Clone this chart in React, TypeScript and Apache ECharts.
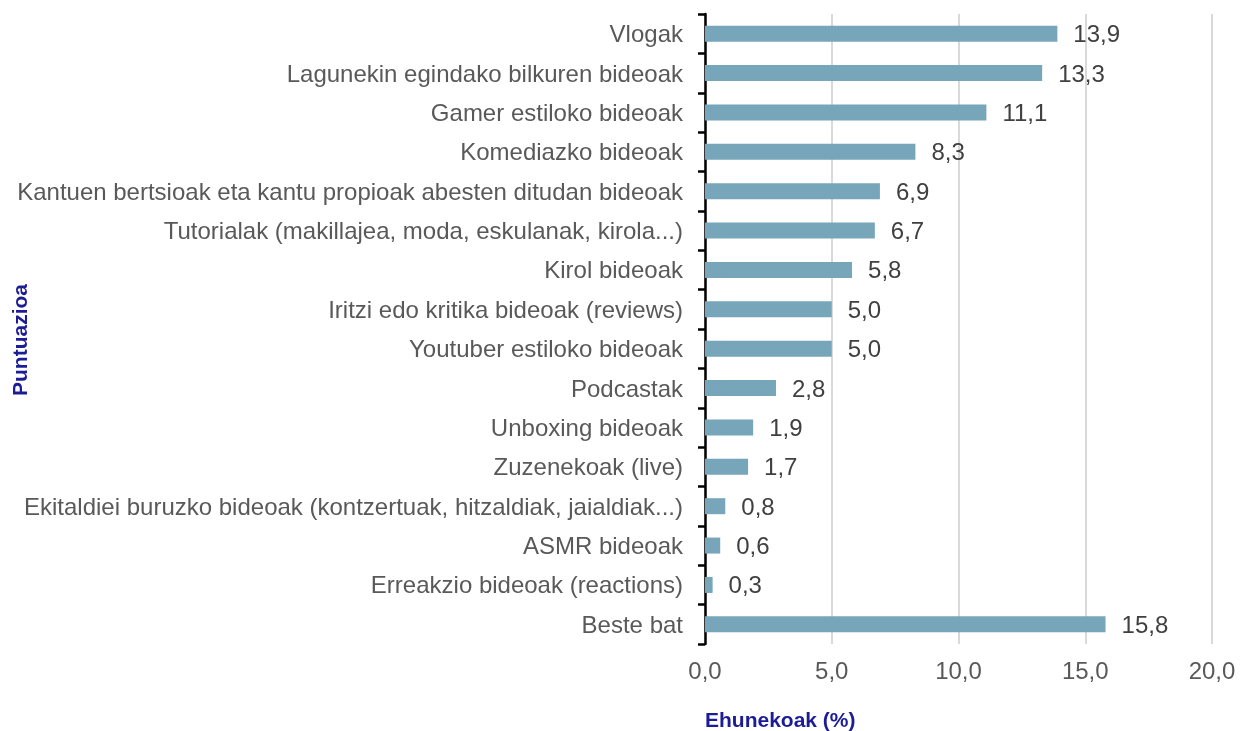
import React, { useEffect, useRef } from "react";
import * as echarts from "echarts";

const categories = [
  "Vlogak",
  "Lagunekin egindako bilkuren bideoak",
  "Gamer estiloko bideoak",
  "Komediazko bideoak",
  "Kantuen bertsioak eta kantu propioak abesten ditudan bideoak",
  "Tutorialak (makillajea, moda, eskulanak, kirola...)",
  "Kirol bideoak",
  "Iritzi edo kritika bideoak (reviews)",
  "Youtuber estiloko bideoak",
  "Podcastak",
  "Unboxing bideoak",
  "Zuzenekoak (live)",
  "Ekitaldiei buruzko bideoak (kontzertuak, hitzaldiak, jaialdiak...)",
  "ASMR bideoak",
  "Erreakzio bideoak (reactions)",
  "Beste bat",
];

const values = [13.9, 13.3, 11.1, 8.3, 6.9, 6.7, 5.8, 5.0, 5.0, 2.8, 1.9, 1.7, 0.8, 0.6, 0.3, 15.8];

const xAxisName = "Ehunekoak (%)";
const yAxisName = "Puntuazioa";

const fmt = (v: number) => v.toFixed(1).replace(".", ",");

export default function App() {
  const ref = useRef<HTMLDivElement>(null);
  useEffect(() => {
    if (!ref.current) return;
    const chart = echarts.init(ref.current, undefined, { renderer: "svg" });
    const font = "'Liberation Sans', Arial, sans-serif";
    chart.setOption({
      animation: false,
      textStyle: { fontFamily: font },
      grid: { left: 705, right: 37, top: 14, bottom: 87, containLabel: false },
      xAxis: {
        type: "value",
        min: 0,
        max: 20,
        interval: 5,
        axisLine: { show: false },
        axisTick: { show: false },
        axisLabel: {
          formatter: (v: number) => fmt(v),
          color: "#595959",
          fontSize: 24,
          margin: 14,
          fontFamily: font,
        },
        splitLine: {
          show: true,
          lineStyle: { color: "#d9d9d9", width: 2, type: "solid" },
        },
      },
      yAxis: {
        type: "category",
        data: categories,
        inverse: true,
        axisLine: { show: true, lineStyle: { color: "#000000", width: 2.5 } },
        axisTick: { show: true, length: 7, lineStyle: { color: "#000000", width: 2.5 } },
        axisLabel: { color: "#595959", fontSize: 24, margin: 22, fontFamily: font },
        splitLine: { show: false },
      },
      graphic: [
        {
          type: "text",
          left: 705,
          top: 709,
          style: {
            text: xAxisName,
            fill: "#1c1c96",
            font: `bold 21px ${font}`,
          },
        },
        {
          type: "text",
          x: 9,
          y: 396,
          rotation: Math.PI / 2,
          style: {
            text: yAxisName,
            fill: "#1c1c96",
            font: `bold 21px ${font}`,
          },
        },
      ],
      series: [
        {
          type: "bar",
          data: values,
          barWidth: 16,
          itemStyle: { color: "#77a5ba" },
          label: {
            show: true,
            position: "right",
            distance: 16,
            color: "#404040",
            fontSize: 24,
            fontFamily: font,
            formatter: (p: any) => fmt(p.value),
          },
        },
      ],
    });
    return () => chart.dispose();
  }, []);
  return (
    <div
      ref={ref}
      style={{ position: "fixed", left: 0, top: 0, width: 1249, height: 731 }}
    />
  );
}
